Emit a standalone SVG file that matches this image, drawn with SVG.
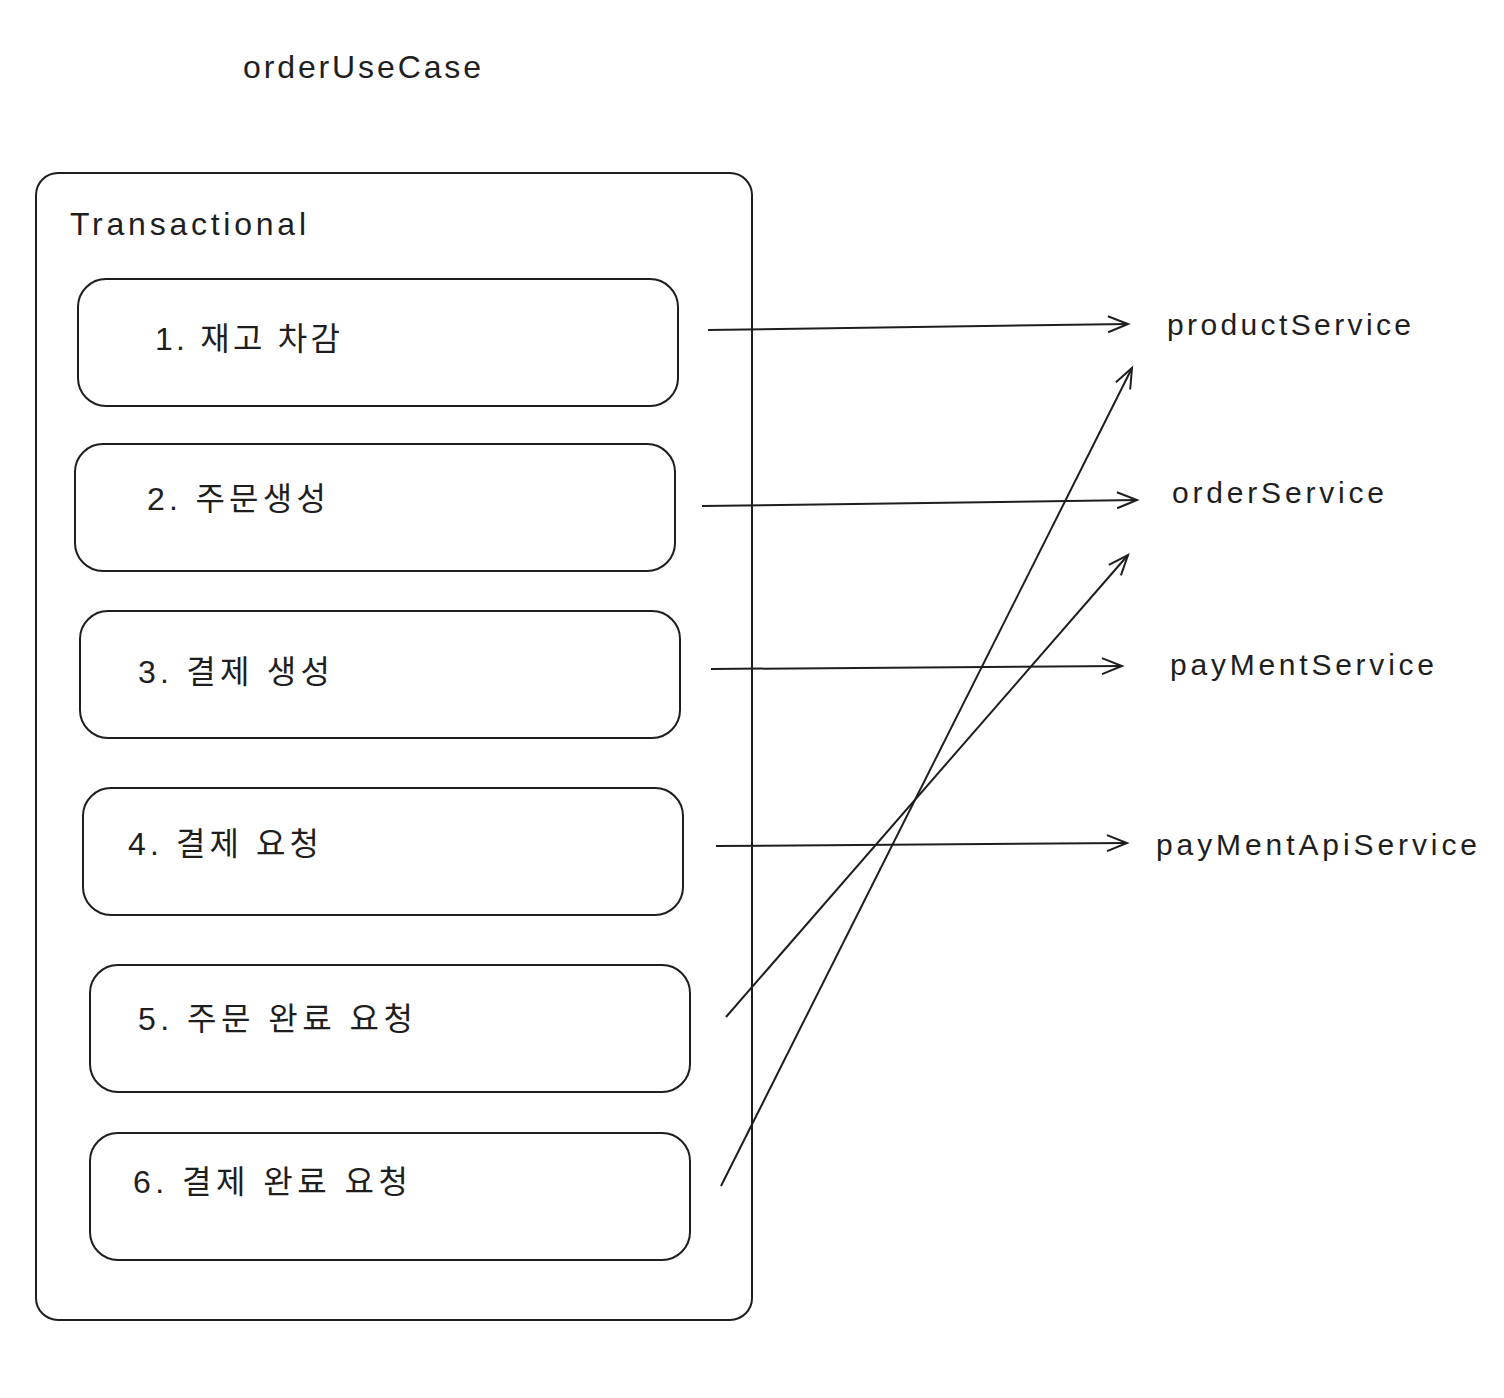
<svg xmlns="http://www.w3.org/2000/svg" width="1504" height="1398" viewBox="0 0 1504 1398">
<style>
.t{font-family:"Liberation Sans","Noto Sans CJK KR",sans-serif;fill:#1e1e1e}
.box{fill:none;stroke:#1e1e1e;stroke-width:2}
.c{fill:none;stroke:#1e1e1e;stroke-width:2;marker-end:url(#a)}
</style>
<defs>
<marker id="a" markerWidth="30" markerHeight="20" refX="22" refY="10" orient="auto" markerUnits="userSpaceOnUse">
<path d="M2,2 L22,10 L2,18" fill="none" stroke="#1e1e1e" stroke-width="2"/>
</marker>
</defs>
<rect width="1504" height="1398" fill="#fff"/>
<text class="t" x="243" y="78" font-size="32" textLength="238" lengthAdjust="spacing">orderUseCase</text>
<g id="transactional">
<rect class="box" x="36" y="173" width="716" height="1147" rx="22"/>
<text class="t" x="70" y="235" font-size="32" textLength="236" lengthAdjust="spacing">Transactional</text>
</g>
<g id="n1"><rect class="box" x="78" y="279" width="600" height="127" rx="28"/><text class="t" x="155" y="350" font-size="32" textLength="185" lengthAdjust="spacing">1. 재고 차감</text></g>
<g id="n2"><rect class="box" x="75" y="444" width="600" height="127" rx="28"/><text class="t" x="147" y="510" font-size="32" textLength="179" lengthAdjust="spacing">2. 주문생성</text></g>
<g id="n3"><rect class="box" x="80" y="611" width="600" height="127" rx="28"/><text class="t" x="138" y="683" font-size="32" textLength="192" lengthAdjust="spacing">3. 결제 생성</text></g>
<g id="n4"><rect class="box" x="83" y="788" width="600" height="127" rx="28"/><text class="t" x="128" y="855" font-size="32" textLength="191" lengthAdjust="spacing">4. 결제 요청</text></g>
<g id="n5"><rect class="box" x="90" y="965" width="600" height="127" rx="28"/><text class="t" x="138" y="1030" font-size="32" textLength="275" lengthAdjust="spacing">5. 주문 완료 요청</text></g>
<g id="n6"><rect class="box" x="90" y="1133" width="600" height="127" rx="28"/><text class="t" x="133" y="1193" font-size="32" textLength="275" lengthAdjust="spacing">6. 결제 완료 요청</text></g>
<g id="s1"><text class="t" x="1167" y="335" font-size="30" textLength="244" lengthAdjust="spacing">productService</text></g>
<g id="s2"><text class="t" x="1172" y="503" font-size="30" textLength="212" lengthAdjust="spacing">orderService</text></g>
<g id="s3"><text class="t" x="1170" y="675" font-size="30" textLength="264" lengthAdjust="spacing">payMentService</text></g>
<g id="s4"><text class="t" x="1156" y="855" font-size="30" textLength="321" lengthAdjust="spacing">payMentApiService</text></g>
<g id="connectors">
<path class="c" d="M708,330 L1128,324"/>
<path class="c" d="M702,506 L1137,500"/>
<path class="c" d="M711,669 L1122,666"/>
<path class="c" d="M716,846 L1127,843"/>
<path class="c" d="M726,1017 L1128,555"/>
<path class="c" d="M721,1186 L1132,368"/>
</g>
</svg>
